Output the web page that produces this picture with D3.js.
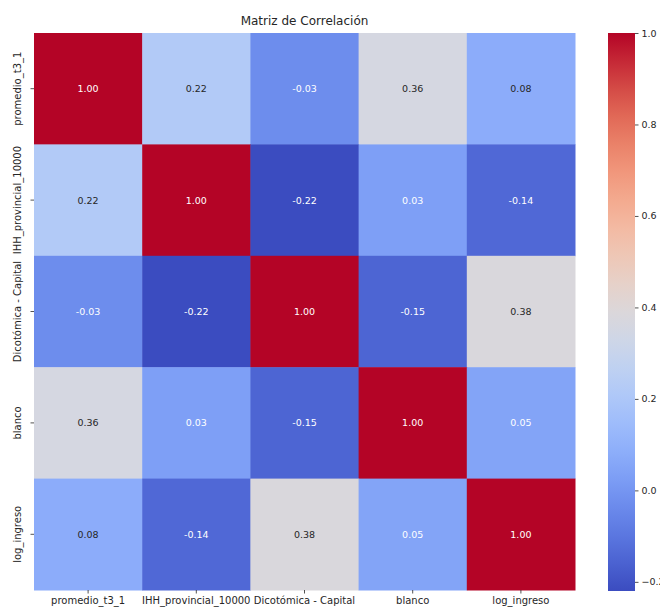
<!DOCTYPE html>
<html>
<head>
<meta charset="utf-8">
<script src="https://cdn.jsdelivr.net/npm/d3@7"></script>
<style>
  html, body { margin: 0; padding: 0; background: #ffffff; }
  svg { display: block; font-family: "DejaVu Sans", sans-serif; }
</style>
</head>
<body>
<svg id="chart" width="660" height="610"></svg>
<script>
// Variables of the correlation matrix
const variables = ["promedio_t3_1", "IHH_provincial_10000", "Dicotómica - Capital", "blanco", "log_ingreso"];

// One row of coefficients per variable
const rowPromedio = [1.00, 0.22, -0.03, 0.36, 0.08];
const rowIHH      = [0.22, 1.00, -0.22, 0.03, -0.14];
const rowCapital  = [-0.03, -0.22, 1.00, -0.15, 0.38];
const rowBlanco   = [0.36, 0.03, -0.15, 1.00, 0.05];
const rowIngreso  = [0.08, -0.14, 0.38, 0.05, 1.00];
const matrix = [rowPromedio, rowIHH, rowCapital, rowBlanco, rowIngreso];

// Colour bar ticks
const colorbarTicks = [1.0, 0.8, 0.6, 0.4, 0.2, 0.0, -0.2];

const title = "Matriz de Correlación";

// coolwarm diverging palette stops
const coolwarmStops = ["#3b4cc0", "#6282ea", "#8db0fe", "#b8d0f9", "#dddddd",
                       "#f5c4ad", "#f49a7b", "#de604d", "#b40426"];
const coolwarm = d3.interpolateRgbBasis(coolwarmStops);

const allValues = matrix.flat();
const vmin = d3.min(allValues), vmax = d3.max(allValues);
const norm = d3.scaleLinear().domain([vmin, vmax]).range([0, 1]);
const color = v => coolwarm(norm(v));

const svg = d3.select("#chart");

const plot = { left: 34, right: 575, top: 33, bottom: 590 };
const x = d3.scaleBand().domain(d3.range(variables.length)).range([plot.left, plot.right]).padding(0);
const y = d3.scaleBand().domain(d3.range(variables.length)).range([plot.top, plot.bottom]).padding(0);

// Luminance rule for annotation text colour
function luminance(c) {
  const rgb = d3.rgb(c);
  const lin = [rgb.r, rgb.g, rgb.b].map(v => {
    v /= 255;
    return v <= 0.03928 ? v / 12.92 : Math.pow((v + 0.055) / 1.055, 2.4);
  });
  return 0.2126 * lin[0] + 0.7152 * lin[1] + 0.0722 * lin[2];
}

const cells = [];
matrix.forEach((row, i) => row.forEach((v, j) => cells.push({ i, j, v })));

const g = svg.append("g");
g.selectAll("rect.cell").data(cells).join("rect")
  .attr("class", "cell")
  .attr("x", d => x(d.j))
  .attr("y", d => y(d.i))
  .attr("width", x.bandwidth() + 0.5)
  .attr("height", y.bandwidth() + 0.5)
  .attr("fill", d => color(d.v));

g.selectAll("text.annot").data(cells).join("text")
  .attr("class", "annot")
  .attr("x", d => x(d.j) + x.bandwidth() / 2)
  .attr("y", d => y(d.i) + y.bandwidth() / 2)
  .attr("text-anchor", "middle")
  .attr("dominant-baseline", "central")
  .attr("font-size", 9.5)
  .attr("fill", d => luminance(color(d.v)) > 0.408 ? "#262626" : "#ffffff")
  .text(d => d.v.toFixed(2));

// Axes with category labels
const xAxis = d3.axisBottom(x).tickSize(3.5).tickPadding(3).tickFormat(i => variables[i]);
const xg = svg.append("g").attr("transform", `translate(0,${plot.bottom})`).call(xAxis);
xg.select(".domain").remove();
xg.selectAll("text").attr("font-size", 10).attr("fill", "#262626").attr("font-family", "DejaVu Sans, sans-serif");
xg.selectAll("line").attr("stroke", "#262626").attr("stroke-width", 0.8);

const yAxis = d3.axisLeft(y).tickSize(3.5).tickPadding(3).tickFormat(i => variables[i]);
const yg = svg.append("g").attr("transform", `translate(${plot.left},0)`).call(yAxis);
yg.select(".domain").remove();
yg.selectAll("line").attr("stroke", "#262626").attr("stroke-width", 0.8);
yg.selectAll("text")
  .attr("font-size", 10).attr("fill", "#262626").attr("font-family", "DejaVu Sans, sans-serif")
  .attr("text-anchor", "middle")
  .attr("dy", null)
  .attr("x", null)
  .attr("transform", "translate(-13,0) rotate(-90)");

// Title
svg.append("text")
  .attr("x", (plot.left + plot.right) / 2)
  .attr("y", 25)
  .attr("text-anchor", "middle")
  .attr("font-size", 12)
  .attr("fill", "#262626")
  .text(title);

// Colour bar
const cb = { x: 608, w: 27, top: 33, bottom: 591 };
const cbScale = d3.scaleLinear().domain([vmin, vmax]).range([cb.bottom, cb.top]);
const defs = svg.append("defs");
const grad = defs.append("linearGradient").attr("id", "cbgrad")
  .attr("x1", 0).attr("y1", 1).attr("x2", 0).attr("y2", 0);
d3.range(0, 1.0001, 0.05).forEach(t => {
  grad.append("stop").attr("offset", t).attr("stop-color", coolwarm(t));
});
svg.append("rect")
  .attr("x", cb.x).attr("y", cb.top)
  .attr("width", cb.w).attr("height", cb.bottom - cb.top)
  .attr("fill", "url(#cbgrad)");

const cbAxis = d3.axisRight(cbScale).tickValues(colorbarTicks).tickSize(3.5).tickPadding(3)
  .tickFormat(d => d3.format(".1f")(d).replace("-", "−"));
const cbg = svg.append("g").attr("transform", `translate(${cb.x + cb.w},0)`).call(cbAxis);
cbg.select(".domain").remove();
cbg.selectAll("line").attr("stroke", "#262626").attr("stroke-width", 0.8);
cbg.selectAll("text").attr("font-size", 9.5).attr("fill", "#262626").attr("font-family", "DejaVu Sans, sans-serif");
</script>
</body>
</html>
